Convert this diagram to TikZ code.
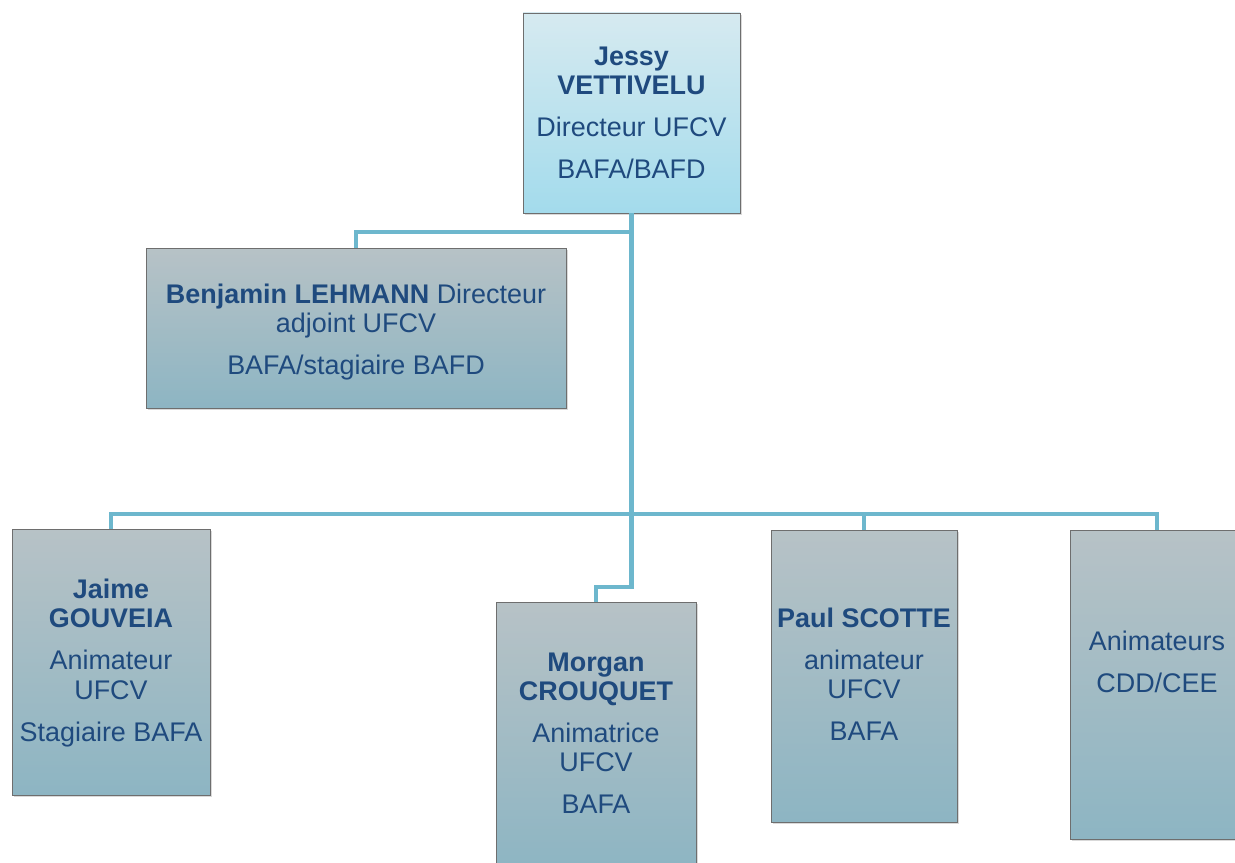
\documentclass[tikz,border=0pt]{standalone}
\usepackage{fontspec}
\setmainfont{Liberation Sans}
\usetikzlibrary{shadows,fit}
\definecolor{txt}{HTML}{1F4A7E}
\definecolor{lnk}{HTML}{6DB7CD}
\definecolor{topA}{HTML}{D6EAF0}
\definecolor{topB}{HTML}{A3DBEC}
\definecolor{boxA}{HTML}{B7C2C6}
\definecolor{boxB}{HTML}{8DB5C3}
\definecolor{edgec}{HTML}{6E6E6E}
\begin{document}
\begin{tikzpicture}[x=0.75pt,y=-0.75pt,
  box/.style={draw=edgec, line width=0.7pt, top color=boxA, bottom color=boxB,
    drop shadow={shadow xshift=1.2pt,shadow yshift=-1.8pt,opacity=0.3},
    inner sep=0pt},
  topbox/.style={box, top color=topA, bottom color=topB},
  lbl/.style={text=txt, align=center, font=\fontsize{20.2}{22}\selectfont, inner sep=0pt},
  link/.style={draw=lnk, line width=3.7pt, line join=miter}
]
\useasboundingbox (0,0) rectangle (1235,863);
\coordinate (hbus) at (0,232);
\coordinate (bus) at (0,514);
\coordinate (mbus) at (0,587);

\node[topbox, fit={(523,13) (740,213)}] (jessy) {};
\node[box, fit={(146,248) (566,408)}] (benj) {};
\node[box, fit={(12,529) (210,795)}] (jaime) {};
\node[box, fit={(496,602) (696,870)}] (morgan) {};
\node[box, fit={(771,530) (957,822)}] (paul) {};
\node[box, fit={(1070,530) (1244,839)}] (anim) {};

\node[lbl] (jessytxt) at (jessy.center)
  {\textbf{Jessy}\\\textbf{VETTIVELU}\\[9.5pt]Directeur UFCV\\[9.5pt]BAFA/BAFD};
\node[lbl, yshift=-3.2pt] (benjtxt) at (benj.center)
  {\textbf{Benjamin LEHMANN} Directeur\\adjoint UFCV\\[9.5pt]BAFA/stagiaire BAFD};
\node[lbl, yshift=-0.7pt] (jaimetxt) at (jaime.center)
  {\textbf{Jaime}\\\textbf{GOUVEIA}\\[9.5pt]Animateur\\UFCV\\[9.5pt]Stagiaire BAFA};
\node[lbl, yshift=2pt] (morgantxt) at (morgan.center)
  {\textbf{Morgan}\\\textbf{CROUQUET}\\[9.5pt]Animatrice\\UFCV\\[9.5pt]BAFA};
\node[lbl, yshift=1.5pt] (paultxt) at (paul.center)
  {\textbf{Paul SCOTTE}\\[9.5pt]animateur\\UFCV\\[9.5pt]BAFA};
\node[lbl] (animtxt) at (1157,662) {Animateurs\\[10pt]CDD/CEE};

\draw[link] (jessy.south) -- (jessy.south |- hbus) -| (benj.north);
\draw[link] (jessy.south) -- (jessy.south |- mbus) -| (morgan.north);
\draw[link] (jaime.north) -- (jaime.north |- bus) -- (anim.north |- bus) -- (anim.north);
\draw[link] (paul.north) -- (paul.north |- bus);
\end{tikzpicture}
\end{document}
